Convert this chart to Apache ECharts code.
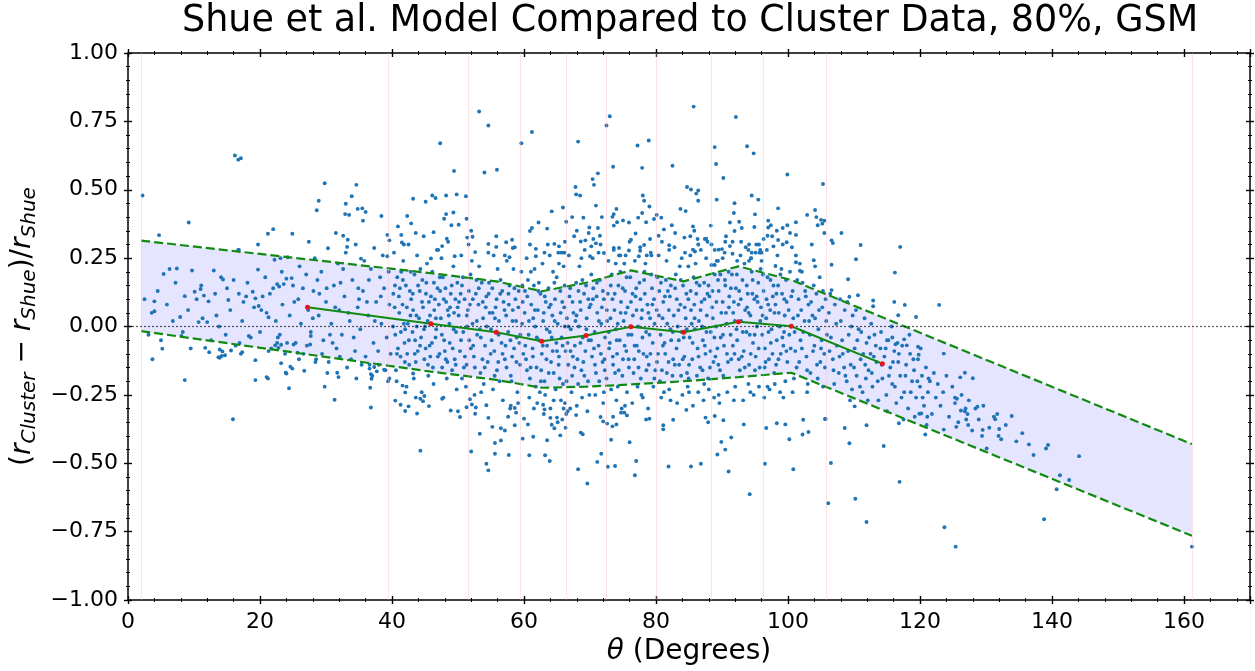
<!DOCTYPE html>
<html><head><meta charset="utf-8">
<script src="https://cdn.jsdelivr.net/npm/echarts@6/dist/echarts.min.js"></script>
<style>html,body{margin:0;padding:0;background:#fff}#c{width:1255px;height:671px}</style>
</head><body><div id="c"></div>
<script>
const titleText = 'Shue et al. Model Compared to Cluster Data, 80%, GSM';
const binEdges = [2, 39.5, 51.5, 59.5, 66.4, 72.4, 80.0, 88.3, 96.3, 105.8, 161.2];
const bandX = [2, 45.9, 55.8, 62.7, 69.4, 76.2, 84.2, 92.5, 100.5, 161.2];
const bandUpper = [0.314, 0.195, 0.165, 0.129, 0.16, 0.205, 0.165, 0.22, 0.17, -0.43];
const bandLower = [-0.017, -0.165, -0.195, -0.224, -0.22, -0.212, -0.2, -0.185, -0.169, -0.765];
const medianX = [27.2, 45.9, 55.8, 62.7, 69.4, 76.2, 84.2, 92.5, 100.5, 114.3];
const medianY = [0.07, 0.01, -0.021, -0.054, -0.033, -0.001, -0.021, 0.017, 0.001, -0.136];

// scatter points [x, y, x, y, ...]
const ptsLeft = [4.0,.092,4.0,.056,5.4,.192,6.3,.21,7.4,.212,9.7,.205,7.9,.035,8.6,.111,10.1,.127,11.1,.15,11.0,.137,11.5,.113,12.2,.092,10.7,.016,12.0,.016,13.4,.04,13.0,.205,14.4,.172,15.0,.14,15.2,.097,16.0,.17,16.7,.28,17.9,.11,17.5,.09,18.9,.127,19.3,.103,19.8,.075,19.7,.208,20.8,.18,21.3,.034,22.2,.244,22.6,.155,22.9,.146,23.6,.155,23.1,.25,24.0,.175,24.8,.177,24.2,.253,
8.1,-.035,13.9,-.084,13.9,-.114,16.9,-.06,18.3,-.035,21.3,-.09,22.3,-.069,22.6,-.06,23.2,-.067,22.8,-.078,23.9,-.169,25.1,-.066,25.7,-.096,27.7,-.035,27.6,-.066,36.7,-.224,
2.5,.1,3.1,-.03,3.6,.05,4.5,.13,5.0,-.05,5.9,.08,6.8,.02,7.2,.16,8.3,-.02,9.1,.06,9.5,-.08,10.4,.1,11.3,.03,12.6,-.05,13.2,.12,13.8,.0,14.1,.18,14.8,-.03,15.5,.06,16.3,-.07,16.8,.12,17.3,.02,18.1,.16,18.6,-.04,19.1,.07,20.0,-.02,20.4,.11,21.0,.05,21.7,-.08,22.0,.14,22.4,.02,23.0,-.03,23.4,.08,23.8,-.1,24.5,.04,25.0,.15,25.4,-.06,25.8,.1,26.2,.01,26.6,-.1,27.0,.19,27.3,.06,27.7,-.02,28.1,.13,28.5,-.12,28.9,.04,29.3,.2,29.6,-.05,30.0,.09,30.4,-.13,30.8,.01,31.2,.15,31.6,-.08,32.0,.06,32.4,-.03,32.8,.11,33.2,-.15,33.6,.02,34.0,.17,34.4,-.09,34.8,.07,35.2,-.01,35.6,.13,36.0,-.11,36.4,.04,36.8,.21,37.2,-.06,37.6,.09,38.0,-.14,38.4,.01,38.8,.14,39.2,-.04,39.6,.08,
26.0,.22,28.3,.25,30.2,-.17,31.8,.23,33.0,.27,34.6,-.19,35.8,.24,37.0,-.18,38.6,.26,39.4,-.2,29.0,.12,32.2,.16,35.0,.1,36.6,-.14,38.2,.18,39.8,-.1,
20.2,.06,21.5,.12,22.7,-.04,23.3,.2,24.1,-.06,25.2,.09,25.9,-.12,26.5,.14,27.1,-.07,28.0,.03,28.7,.17,29.4,-.1,30.1,.14,30.6,-.03,31.4,.07,32.1,-.11,32.6,.21,33.4,.05,34.2,-.04,34.9,.14,35.4,-.14,36.2,.09,37.4,.02,37.9,-.09,38.3,.11,39.0,-.16,39.5,.2,36.5,.17,33.8,-.12,31.0,-.06];

const ptsCoreA = [40.2,.12,40.5,-.03,40.8,.18,41.1,.05,41.3,-.11,41.6,.08,41.9,-.06,42.1,.15,42.4,.01,42.6,-.14,42.9,.1,43.1,-.02,43.4,.19,43.7,.04,43.9,-.09,44.2,.13,44.4,-.04,44.7,.07,44.9,-.12,45.2,.16,45.4,.02,45.7,-.07,45.9,.11,46.2,-.15,46.4,.06,46.7,-.01,46.9,.14,47.2,-.1,47.4,.03,47.7,.18,47.9,-.05,48.2,.09,48.4,-.13,48.7,.01,48.9,.12,49.2,-.08,49.4,.05,49.7,-.02,49.9,.16,
40.4,.07,40.9,-.08,41.4,.2,41.8,.01,42.3,-.1,42.7,.13,43.2,.06,43.6,-.13,44.1,.03,44.6,.17,45.1,-.08,45.6,.09,46.1,.2,46.6,-.04,47.1,.08,47.6,-.15,48.1,.14,48.6,.04,49.1,-.16,49.6,.1,
40.6,-.16,41.2,.14,42.0,-.01,42.8,.04,43.5,-.05,44.3,.21,45.0,.0,45.8,-.11,46.5,.1,47.3,.13,48.0,-.09,48.8,.07,49.5,-.12,
40.3,.27,41.7,.24,42.5,.3,43.8,.26,44.8,.33,45.3,.23,46.8,.28,47.5,.25,48.5,.31,49.3,.22,40.7,-.2,42.2,-.22,43.3,-.19,44.5,-.24,45.5,-.18,46.3,-.21,47.8,-.26,48.3,-.19,49.8,-.23,
50.1,.04,50.3,-.09,50.6,.15,50.8,-.02,51.0,.1,51.3,-.14,51.5,.06,51.7,-.05,51.9,.19,52.2,.01,52.4,-.11,52.7,.12,52.9,-.03,53.1,.08,53.4,-.17,53.6,.16,53.8,.03,54.1,-.07,54.3,.11,54.5,-.13,54.8,.05,55.0,-.01,55.2,.14,55.5,-.09,55.7,.07,55.9,-.16,56.2,.02,56.4,.12,56.6,-.06,56.9,.09,57.1,-.12,57.3,.04,57.6,-.02,57.8,.15,58.0,-.18,58.3,.06,58.5,-.08,58.7,.1,58.9,-.04,59.2,.13,59.4,-.14,59.7,.01,59.9,-.1,
50.4,.12,50.9,-.15,51.4,.0,51.8,.08,52.3,-.07,52.8,.17,53.3,-.01,53.7,-.12,54.2,.07,54.7,.16,55.1,-.05,55.6,.03,56.1,-.13,56.7,.13,57.2,-.07,57.7,.08,58.2,-.11,58.8,.02,59.3,-.06,59.8,.09,
50.5,.26,51.2,-.22,51.6,.3,52.5,-.25,53.2,.22,53.9,-.21,54.6,.27,55.3,-.23,56.0,.21,56.8,-.27,57.4,.24,58.1,-.2,58.6,.29,59.0,-.24,59.6,.2,52.0,.35,55.8,.33,57.9,-.3,
40.15,.0,40.45,.15,40.75,-.1,41.05,.11,41.35,-.02,41.65,.17,41.95,-.13,42.25,.07,42.55,-.05,42.85,.2,43.15,.12,43.45,-.1,43.75,.0,43.95,.15,44.25,-.07,44.55,.09,44.85,-.01,45.15,.12,45.45,-.14,45.75,.04,46.05,-.06,46.35,.16,46.65,.03,46.95,-.11,47.25,.18,47.55,-.03,47.85,.1,48.15,-.12,48.45,.06,48.75,-.06,49.05,.15,49.35,-.01,49.65,-.14,49.95,.07,
50.15,.09,50.45,-.05,50.75,.18,51.05,-.11,51.35,.04,51.65,.13,51.95,-.08,52.25,.1,52.55,-.15,52.85,.02,53.15,.14,53.45,-.04,53.75,.09,54.05,-.15,54.35,.0,54.65,.12,54.95,-.1,55.25,.05,55.55,-.18,55.85,.1,56.15,-.03,56.45,.17,56.75,-.1,57.05,.06,57.35,-.15,57.65,.12,57.95,-.05,58.25,.02,58.55,.14,58.85,-.13,59.15,.07,59.45,-.03,59.75,.15,50.6,-.19,52.1,.24,53.5,-.24,55.4,.26,56.3,-.2,58.4,.21,59.1,-.28];

const ptsCoreB = [60.1,.05,60.3,-.12,60.5,.11,60.7,-.03,60.9,-.19,61.1,.08,61.3,-.08,61.5,.15,61.7,.0,61.9,-.15,62.1,.06,62.3,-.05,62.5,.12,62.7,-.1,62.9,.02,63.1,-.2,63.3,.09,63.5,-.07,63.7,.14,63.9,-.02,64.1,-.13,64.3,.04,64.5,-.17,64.7,.1,64.9,-.06,65.1,.01,65.3,-.11,65.5,.13,65.7,-.04,65.9,-.21,66.1,.07,66.3,-.09,66.5,.03,66.7,-.14,66.9,.11,67.1,-.01,67.3,-.18,67.5,.05,67.7,-.07,67.9,.16,68.1,-.12,68.3,.0,68.5,.09,68.7,-.16,68.9,-.04,69.1,.12,69.3,-.09,69.5,.03,69.7,-.2,69.9,.07,
60.2,-.07,60.6,.17,61.0,-.15,61.4,.03,61.8,-.22,62.2,.13,62.6,-.16,63.0,.05,63.4,-.12,63.8,.07,64.2,-.04,64.6,.16,65.0,-.09,65.4,-.19,65.8,.09,66.2,.0,66.6,-.06,67.0,.14,67.4,-.11,67.8,.02,68.2,-.21,68.6,.06,69.0,-.13,69.4,.15,69.8,-.05,
60.4,.25,60.8,-.26,61.6,.21,62.0,-.28,62.8,.23,63.2,-.25,63.6,.3,64.0,-.3,64.4,.2,64.8,-.23,65.2,.27,65.6,-.27,66.0,.22,66.4,-.32,66.8,.26,67.2,-.24,67.6,.33,68.0,-.29,68.4,.22,68.8,-.26,69.2,.28,69.6,-.31,61.2,.36,65.1,-.35,67.3,.4,
60.15,.13,60.45,-.16,60.75,.02,61.05,.2,61.35,-.11,61.65,.06,61.95,-.04,62.25,.16,62.55,-.2,62.85,-.07,63.15,.11,63.45,-.01,63.75,-.17,64.05,.08,64.35,-.09,64.65,.02,64.95,.18,65.25,-.14,65.55,.05,65.85,-.07,66.15,.15,66.45,-.2,66.75,.0,67.05,-.09,67.35,.09,67.65,-.15,67.95,.04,68.25,.13,68.55,-.06,68.85,.17,69.15,-.18,69.45,-.01,69.75,.1,60.9,.3,62.4,-.24,63.9,.26,64.5,-.27,66.2,.31,67.0,-.3,68.7,.25,69.9,-.25,61.5,-.3,65.3,.23,68.0,.35,
70.1,.08,70.3,-.11,70.5,.14,70.7,-.02,70.9,-.17,71.1,.05,71.3,-.07,71.5,.17,71.7,.01,71.9,-.13,72.1,.1,72.3,-.04,72.5,-.19,72.7,.12,72.9,-.08,73.1,.03,73.3,.19,73.5,-.14,73.7,.06,73.9,-.01,74.1,-.1,74.3,.15,74.5,-.05,74.7,.09,74.9,-.18,75.1,.02,75.3,.13,75.5,-.09,75.7,.07,75.9,-.15,76.1,.18,76.3,-.03,76.5,.04,76.7,-.12,76.9,.11,77.1,-.07,77.3,.0,77.5,.16,77.7,-.19,77.9,.06,78.1,-.1,78.3,.12,78.5,-.02,78.7,.08,78.9,-.14,79.1,.03,79.3,.19,79.5,-.06,79.7,.1,79.9,-.16,
70.2,.19,70.6,-.08,71.0,.11,71.4,-.2,71.8,.07,72.2,-.12,72.6,.02,73.0,-.06,73.4,.1,73.8,-.17,74.2,.01,74.6,.2,75.0,-.12,75.4,.05,75.8,-.03,76.2,.09,76.6,-.17,77.0,.14,77.4,-.09,77.8,.03,78.2,.17,78.6,-.11,79.0,-.03,79.4,.14,79.8,.01,
70.4,.25,70.8,-.25,71.6,.3,72.0,-.28,72.8,.24,73.2,-.23,73.6,.28,74.0,-.27,74.4,.26,74.8,-.3,75.2,.23,75.6,-.24,76.0,.31,76.4,-.28,76.8,.24,77.2,-.22,77.6,.29,78.0,-.26,78.4,.23,78.8,-.3,79.2,.27,79.6,-.22,71.2,.36,73.5,-.33,75.9,.38,78.5,-.34,
70.15,-.05,70.45,.1,70.75,-.14,71.05,.16,71.35,.02,71.65,-.1,71.95,.13,72.25,-.16,72.55,.06,72.85,-.02,73.15,.15,73.45,-.11,73.75,.12,74.05,-.05,74.35,-.16,74.65,.05,74.95,.14,75.25,-.07,75.55,.18,75.85,-.12,76.15,.0,76.45,.12,76.75,-.07,77.05,.06,77.35,-.15,77.65,.1,77.95,-.04,78.25,.2,78.55,-.16,78.85,.05,79.15,-.1,79.45,.08,79.75,-.19,70.5,.32,72.1,-.24,73.9,.23,75.3,-.29,76.9,.34,77.8,-.25,79.1,.32,71.3,.27,74.2,-.22,78.6,.26];

const ptsCoreC = [80.1,.06,80.3,-.1,80.5,.13,80.7,-.03,80.9,-.16,81.1,.09,81.3,-.06,81.5,.17,81.7,.01,81.9,-.13,82.1,.11,82.3,-.05,82.5,-.18,82.7,.04,82.9,.14,83.1,-.08,83.3,.0,83.5,-.14,83.7,.08,83.9,-.02,84.1,.15,84.3,-.11,84.5,.03,84.7,-.17,84.9,.1,85.1,-.04,85.3,.06,85.5,-.12,85.7,.18,85.9,-.01,86.1,.12,86.3,-.08,86.5,.02,86.7,-.15,86.9,.09,87.1,-.05,87.3,.16,87.5,-.1,87.7,.04,87.9,-.19,88.1,.11,88.3,-.02,88.5,.07,88.7,-.13,88.9,.19,89.1,.0,89.3,-.08,89.5,.13,89.7,-.16,89.9,.05,
80.2,.18,80.6,-.2,81.0,.03,81.4,-.1,81.8,.13,82.2,-.01,82.6,-.12,83.0,.19,83.4,.06,83.8,-.18,84.2,-.04,84.6,.12,85.0,-.14,85.4,.01,85.8,.08,86.2,-.18,86.6,.15,87.0,.0,87.4,-.07,87.8,.12,88.2,-.15,88.6,.03,89.0,-.11,89.4,.17,89.8,-.04,
80.4,.26,80.8,-.26,81.6,.24,82.0,-.23,82.8,.29,83.2,-.28,83.6,.22,84.0,-.25,84.4,.27,84.8,-.22,85.2,.33,85.6,-.29,86.0,.23,86.4,-.24,86.8,.28,87.2,-.27,87.6,.25,88.0,-.23,88.4,.3,88.8,-.26,89.2,.24,89.6,-.28,82.4,.37,85.8,.35,87.9,-.35,
80.15,-.13,80.45,.04,80.75,.16,81.05,-.07,81.35,.11,81.65,-.17,81.95,.06,82.25,.15,82.55,-.02,82.85,-.14,83.15,.1,83.45,-.05,83.75,.17,84.05,-.12,84.35,.07,84.65,-.01,84.95,-.19,85.25,.13,85.55,-.06,85.85,.03,86.15,.16,86.45,-.11,86.75,.06,87.05,-.16,87.35,.1,87.65,-.02,87.95,.15,88.25,-.09,88.55,.13,88.85,-.04,89.15,.09,89.45,-.14,89.75,.19,80.9,.31,82.2,-.27,83.9,.25,85.0,-.24,86.3,.32,87.3,-.21,88.9,.28,89.5,-.25,81.2,-.24,84.9,.22,
90.1,.09,90.3,-.07,90.5,.15,90.7,.01,90.9,-.13,91.1,.11,91.3,-.03,91.5,.19,91.7,.05,91.9,-.1,92.1,.14,92.3,-.05,92.5,.08,92.7,-.16,92.9,.02,93.1,.17,93.3,-.09,93.5,.06,93.7,-.02,93.9,.12,94.1,-.14,94.3,.04,94.5,.2,94.7,-.06,94.9,.1,95.1,-.11,95.3,.0,95.5,.16,95.7,-.15,95.9,.07,96.1,-.03,96.3,.13,96.5,-.08,96.7,.03,96.9,.18,97.1,-.12,97.3,.06,97.5,-.01,97.7,.11,97.9,-.17,98.1,.08,98.3,-.05,98.5,.15,98.7,.0,98.9,-.1,99.1,.12,99.3,-.07,99.5,.04,99.7,.17,99.9,-.13,
90.2,-.18,90.6,.05,91.0,.2,91.4,-.12,91.8,.09,92.2,-.01,92.6,.13,93.0,-.11,93.4,.23,93.8,.07,94.2,-.03,94.6,.12,95.0,-.16,95.4,.09,95.8,.02,96.2,.19,96.6,-.13,97.0,.08,97.4,-.06,97.8,.15,98.2,-.14,98.6,.05,99.0,.21,99.4,-.02,99.8,.09,
90.4,.27,90.8,-.24,91.6,.31,92.0,-.22,92.8,.26,93.2,-.27,93.6,.29,94.0,-.21,94.4,.25,94.8,-.25,95.2,.3,95.6,-.22,96.0,.24,96.4,-.26,96.8,.28,97.2,-.23,97.6,.33,98.0,-.21,98.4,.26,98.8,-.24,99.2,.3,99.6,-.2,91.2,.38,93.0,.36,95.0,.41,97.4,.37,
90.15,-.03,90.45,.17,90.75,-.1,91.05,.07,91.35,.14,91.65,-.07,91.95,.02,92.25,.19,92.55,-.12,92.85,.1,93.15,-.02,93.45,-.15,93.75,.15,94.05,.05,94.35,-.1,94.65,.17,94.95,-.03,95.25,.11,95.55,-.08,95.85,.21,96.15,.04,96.45,-.15,96.75,.1,97.05,-.02,97.35,.17,97.65,-.1,97.95,.05,98.25,.12,98.55,-.12,98.85,.19,99.15,-.04,99.45,.1,99.75,-.09,90.6,.33,91.8,-.27,92.9,.31,94.3,-.24,95.7,.27,96.9,-.22,98.3,.35,99.3,-.26,92.3,.24,96.3,.32,
100.1,.06,100.4,-.08,100.7,.13,101.0,-.02,101.3,-.15,101.6,.1,101.9,-.05,102.2,.16,102.5,.02,102.8,-.11,103.1,.08,103.4,-.17,103.7,.04,104.0,-.07,104.3,.12,104.6,-.01,104.9,-.13,105.2,.07,105.5,-.1,105.8,.02,
100.3,.2,100.9,-.19,101.5,.04,102.1,-.08,102.7,.11,103.3,-.03,103.9,.15,104.5,-.19,105.1,-.05,105.7,.1,101.2,.26,102.9,-.24,104.1,.22,105.3,-.22,100.6,.29,103.6,.3,
100.2,-.03,100.5,.11,100.8,.03,101.1,-.09,101.4,.17,101.7,-.13,102.0,.06,102.3,-.02,102.6,.13,102.9,-.16,103.2,.02,103.5,.09,103.8,-.09,104.1,.03,104.4,-.14,104.7,.06,105.0,-.08,105.3,.13,105.6,-.15,105.9,-.03,101.8,.23,103.0,-.21,104.8,.18,100.7,-.24];

const ptsRight = [106.2,.05,106.5,-.04,106.8,-.12,107.1,.08,107.4,-.07,107.7,-.17,108.0,.02,108.3,-.1,108.6,.06,108.9,-.2,109.2,-.03,109.5,-.14,109.8,.04,110.1,-.08,110.4,-.18,110.7,-.01,111.0,-.12,111.3,-.24,111.6,.03,111.9,-.06,112.2,-.16,112.5,-.1,112.8,-.22,113.1,-.03,113.4,-.13,113.7,-.27,114.0,-.08,114.3,-.19,114.6,-.11,114.9,-.25,115.2,-.05,115.5,-.15,115.8,-.21,116.1,-.09,116.4,-.28,116.7,-.13,117.0,-.18,117.3,-.07,117.6,-.24,117.9,-.14,118.2,-.3,118.5,-.1,118.8,-.2,119.1,-.16,119.4,-.26,119.7,-.12,120.0,-.22,120.3,-.18,120.6,-.29,120.9,-.15,121.2,-.24,121.5,-.2,121.8,-.32,122.1,-.17,122.4,-.26,
106.4,.12,107.0,-.21,107.9,.1,108.5,-.15,109.0,.09,109.7,-.23,110.3,.06,111.1,-.02,111.8,-.19,112.6,.01,113.3,-.07,114.1,-.02,115.0,-.31,115.7,.0,116.6,-.06,117.5,-.34,118.4,-.03,119.2,-.33,120.1,-.08,121.0,-.36,
122.7,-.21,123.1,-.29,123.5,-.24,124.0,-.18,124.4,-.33,124.9,-.22,125.3,-.28,125.8,-.35,126.3,-.25,126.8,-.31,127.4,-.27,127.9,-.38,128.4,-.3,128.9,-.34,129.6,-.29,130.5,-.37,131.2,-.33,131.9,-.4,133.0,-.36,134.6,-.42,135.5,-.39,137.2,-.47,
106.3,-.09,106.9,-.16,107.3,.01,107.8,-.11,108.2,-.05,108.7,-.18,109.1,-.09,109.6,.0,110.0,-.15,110.5,-.05,110.9,-.22,111.4,-.1,111.7,-.14,112.3,-.04,112.7,-.17,113.0,-.11,113.6,-.2,114.2,-.14,114.8,-.08,115.3,-.18,115.9,-.13,116.2,-.22,116.8,-.1,117.2,-.26,117.8,-.18,118.6,-.24,119.0,-.12,119.6,-.2,120.4,-.26,121.3,-.19];

const ptsUpperOut = [2.2,.479,16.2,.625,16.7,.61,17.1,.615,9.2,.38,4.7,.334,29.8,.524,34.6,.518,28.9,.46,28.6,.425,33.9,.476,33.0,.449,32.9,.411,33.5,.408,34.8,.43,35.5,.432,36.0,.419,35.6,.387,38.4,.404,43.2,.467,42.3,.404,42.9,.377,40.9,.366,43.6,.342,41.4,.335,39.3,.335,39.6,.315,41.5,.307,41.8,.30,31.5,.342,32.6,.332,33.3,.317,33.2,.291,34.5,.30,30.3,.286,27.4,.31,37.3,.287,35.3,.248,24.9,.339,22.0,.356,21.2,.339,19.7,.30,16.8,.28,39.3,.257,
53.2,.786,54.6,.735,47.3,.67,59.6,.67,61.2,.711,54.0,.563,55.9,.573,49.4,.569,68.2,.676,72.5,.735,73.0,.769,73.5,.584,77.2,.662,78.9,.68,77.9,.58,85.7,.804,82.5,.588,45.1,.456,46.1,.479,46.6,.47,48.2,.479,49.8,.483,51.2,.476,51.3,.394,47.9,.394,48.2,.411,49.3,.417,49.0,.37,50.1,.372,46.3,.345,48.3,.321,51.4,.325,52.2,.328,47.0,.28,47.6,.294,49.5,.257,45.9,.249,52.6,.272,54.6,.302,55.8,.291,57.3,.308,58.2,.317,57.1,.26,57.8,.253,58.3,.287,60.9,.349,62.2,.38,63.5,.358,64.2,.421,65.9,.435,66.4,.383,61.8,.284,61.8,.257,63.1,.27,64.6,.302,65.3,.293,65.7,.27,66.1,.27,67.8,.51,67.9,.483,68.5,.479,69.0,.398,69.9,.362,69.8,.342,70.4,.539,70.6,.518,71.2,.56,70.9,.442,71.8,.40,71.5,.332,68.6,.311,69.3,.315,70.2,.293,70.9,.304,72.1,.269,70.0,.257,74.0,.43,73.6,.411,73.4,.401,74.1,.381,73.6,.369,75.0,.388,73.6,.287,74.4,.287,76.2,.317,74.6,.26,75.4,.26,75.9,.278,77.3,.398,77.9,.415,78.2,.46,78.0,.479,79.0,.439,78.5,.381,80.1,.408,79.7,.393,80.8,.398,81.2,.355,80.4,.332,78.2,.298,77.6,.277,77.4,.257,79.3,.26,82.0,.297,82.0,.28,82.9,.342,83.7,.43,84.5,.422,84.7,.51,85.3,.501,86.1,.486,86.4,.497,86.4,.46,85.6,.366,84.3,.325,86.4,.30,85.6,.281,85.9,.274,87.4,.32,85.2,.26,
92.1,.766,88.9,.656,89.1,.594,93.8,.659,94.8,.633,90.2,.543,99.9,.556,105.3,.521,89.2,.464,94.5,.479,95.5,.464,91.9,.451,91.8,.415,98.5,.432,88.3,.369,92.6,.383,91.9,.349,94.9,.364,97.0,.387,97.0,.362,96.9,.332,99.2,.36,99.9,.37,100.3,.342,101.2,.381,101.2,.335,102.9,.408,104.1,.426,104.3,.40,104.5,.37,105.0,.39,105.5,.387,105.2,.376,105.5,.342,106.6,.315,106.8,.305,108.1,.342,111.0,.298,117.0,.291,110.3,.246,116.2,.197,109.1,.173,106.6,.226,103.9,.242,101.2,.235,98.5,.316,99.8,.308,95.6,.3,95.8,.28,96.0,.27,95.1,.27,94.5,.27,90.5,.31,91.2,.294,91.6,.266,89.5,.281,90.0,.283,87.6,.321,87.8,.31,88.4,.225,88.9,.225,89.4,.24,90.1,.25,94.1,.3,94.0,.28,94.1,.24,94.4,.25,98.1,.221,97.8,.293,101.8,.204,102.1,.2,
106.6,.133,109.3,.109,110.6,.114,112.9,.095,112.9,.074,116.1,.09,117.7,.079,116.7,.041,119.4,.035,122.9,.079,119.7,-.074,119.8,-.103,117.6,-.047,118.0,-.069,115.8,-.04,115.0,-.05,116.3,-.065,123.6,-.099];

const ptsLowerOut = [3.7,-.12,5.2,-.081,8.6,-.196,15.9,-.339,11.7,-.078,12.3,-.094,13.7,-.112,14.2,-.108,14.7,-.105,14.3,-.091,15.6,-.088,17.3,-.094,17.1,-.1,19.3,-.123,19.3,-.196,21.0,-.185,21.2,-.19,23.2,-.134,24.0,-.172,24.6,-.147,24.9,-.154,24.4,-.226,26.7,-.162,28.4,-.13,29.8,-.22,31.3,-.268,31.7,-.169,31.9,-.185,36.8,-.296,36.6,-.154,36.8,-.174,36.9,-.191,37.3,-.148,37.7,-.164,39.6,-.19,38.8,-.158,41.6,-.216,42.0,-.241,40.5,-.271,41.3,-.286,42.0,-.309,42.5,-.292,43.6,-.26,43.2,-.172,
44.3,-.454,43.8,-.318,45.6,-.291,44.3,-.264,44.7,-.273,44.9,-.254,47.6,-.264,48.9,-.307,50.0,-.31,50.3,-.331,52.0,-.457,53.3,-.392,52.6,-.319,52.7,-.296,52.1,-.285,51.3,-.295,51.8,-.266,54.3,-.288,54.6,-.334,54.3,-.502,54.6,-.526,55.6,-.465,55.6,-.426,56.5,-.417,55.2,-.367,56.5,-.372,57.1,-.38,57.7,-.47,57.6,-.33,58.0,-.29,58.6,-.298,58.8,-.315,58.6,-.361,59.8,-.41,60.0,-.337,60.6,-.358,60.8,-.471,61.4,-.403,63.2,-.471,63.9,-.492,63.5,-.416,63.0,-.32,63.1,-.303,62.9,-.286,64.2,-.359,64.6,-.372,65.5,-.398,64.0,-.334,65.0,-.333,65.8,-.34,66.0,-.3,66.3,-.37,66.6,-.31,66.2,-.28,68.2,-.522,69.6,-.574,68.6,-.388,68.9,-.394,67.9,-.324,71.1,-.495,71.7,-.465,72.7,-.513,73.8,-.51,73.2,-.414,76.0,-.423,77.0,-.492,76.8,-.544,71.6,-.331,72.0,-.347,72.6,-.355,73.4,-.365,74.0,-.358,74.7,-.315,75.2,-.315,75.6,-.325,79.0,-.337,81.1,-.361,81.1,-.376,81.9,-.512,82.6,-.341,85.3,-.512,86.8,-.502,84.6,-.305,87.5,-.333,
91.0,-.53,94.2,-.613,96.5,-.502,100.8,-.522,89.3,-.468,90.5,-.45,89.9,-.422,91.4,-.406,93.3,-.358,96.7,-.371,98.3,-.354,99.6,-.358,100.2,-.412,102.2,-.395,103.1,-.386,102.3,-.341,88.9,-.327,90.2,-.343,
161.2,-.805,138.8,-.705,140.7,-.595,141.2,-.544,142.6,-.561,144.1,-.474,139.1,-.446,139.4,-.433,136.5,-.431,133.9,-.327,131.4,-.339,131.7,-.32,132.0,-.375,132.3,-.412,130.1,-.446,128.7,-.293,126.9,-.3,127.2,-.32,127.0,-.34,127.3,-.36,129.5,-.378,129.4,-.40,126.2,-.307,125.5,-.367,123.6,-.377,125.3,-.26,125.6,-.264,126.8,-.169,126.1,-.186,128.0,-.189,119.9,-.319,120.2,-.318,121.1,-.33,116.8,-.354,105.6,-.338,110.1,-.292,109.4,-.27,112.1,-.27,
123.7,-.734,125.4,-.805,116.9,-.568,114.5,-.437,111.9,-.361,111.9,-.715,110.2,-.63,109.3,-.427,108.6,-.371,106.5,-.499,106.1,-.646,105.7,-.338,120.8,-.395];

function pairs(a){const r=[];for(let i=0;i+1<a.length;i+=2)r.push([a[i],a[i+1]]);return r;}
const scatterData = [].concat(pairs(ptsLeft),pairs(ptsCoreA),pairs(ptsCoreB),pairs(ptsCoreC),pairs(ptsRight),pairs(ptsUpperOut),pairs(ptsLowerOut));

const FONT = 'DejaVu Sans';
const X_MIN = 0, X_MAX = 170, X_MAJOR = 20, X_MINOR = 4;
const Y_MIN = -1, Y_MAX = 1, Y_MAJOR = 0.25, Y_MINOR = 0.05;
const MAJ = 8, MIN = 4;

function fmtY(v){ const s = Math.abs(v).toFixed(2); return (v < -1e-9 ? '\u2212' : '') + s; }

function baseAx(kind, pos, interval, tickLen, offset, opts){
  return Object.assign({
    type:'value', position:pos,
    min: kind==='x'?X_MIN:Y_MIN, max: kind==='x'?X_MAX:Y_MAX,
    interval:interval, offset:offset,
    axisLine:{show:false, onZero:false},
    axisTick:{show:true, inside:false, length:tickLen, lineStyle:{color:'#000', width: tickLen===MAJ?1.4:1}},
    axisLabel:{show:false}, splitLine:{show:false}, minorTick:{show:false}, minorSplitLine:{show:false}
  }, opts||{});
}
const spine = {show:true, onZero:false, lineStyle:{color:'#000', width:1.5}};

const xAxes = [
  baseAx('x','bottom', X_MAJOR, MAJ, 0, {
    axisLine:spine, axisTick:{show:false},
    axisLabel:{show:true, margin:11, fontFamily:FONT, fontSize:22, color:'#000', formatter:(v)=> (v % X_MAJOR === 0 ? String(v) : '')},
    name:'{i|\u03b8} (Degrees)', nameLocation:'middle', nameGap:38,
    nameTextStyle:{fontFamily:FONT, fontSize:28, color:'#000', rich:{i:{fontFamily:FONT, fontSize:28, fontStyle:'italic', color:'#000'}}}
  }),
  baseAx('x','bottom', X_MAJOR, MAJ, -MAJ/2),
  baseAx('x','bottom', X_MINOR, MIN, -MIN/2),
  baseAx('x','top', X_MAJOR, 0, 0, {axisLine:spine, axisTick:{show:false}}),
  baseAx('x','top', X_MAJOR, MAJ, -MAJ/2),
  baseAx('x','top', X_MINOR, MIN, -MIN/2)
];
const yAxes = [
  baseAx('y','left', Y_MAJOR, MAJ, 0, {
    axisLine:spine, axisTick:{show:false},
    axisLabel:{show:true, margin:10, fontFamily:FONT, fontSize:22, color:'#000', formatter:fmtY},
    name:'{p|(}{i|r}{s|Cluster}{p| \u2212 }{i|r}{s|Shue}{p|)/}{i|r}{s|Shue}',
    nameLocation:'middle', nameGap:84, nameRotate:90,
    nameTextStyle:{fontFamily:FONT, fontSize:28, color:'#000', rich:{
      p:{fontFamily:FONT, fontSize:28, color:'#000'},
      i:{fontFamily:FONT, fontSize:28, fontStyle:'italic', color:'#000'},
      s:{fontFamily:FONT, fontSize:20, fontStyle:'italic', color:'#000', padding:[14,0,0,0]}
    }}
  }),
  baseAx('y','left', Y_MAJOR, MAJ, -MAJ/2),
  baseAx('y','left', Y_MINOR, MIN, -MIN/2),
  baseAx('y','right', Y_MAJOR, 0, 0, {axisLine:spine, axisTick:{show:false}}),
  baseAx('y','right', Y_MAJOR, MAJ, -MAJ/2),
  baseAx('y','right', Y_MINOR, MIN, -MIN/2)
];

const GREEN = '#108a10';
const chart = echarts.init(document.getElementById('c'), null, {renderer:'canvas'});
chart.setOption({
  animation:false,
  backgroundColor:'#fff',
  title:{text:titleText, left:182, top:3, padding:0, textStyle:{fontFamily:FONT, fontSize:36.5, fontWeight:'normal', color:'#000'}},
  grid:{left:128, right:5, top:53, bottom:70},
  xAxis:xAxes,
  yAxis:yAxes,
  series:[
    {
      type:'custom', xAxisIndex:0, yAxisIndex:0, z:1, silent:true,
      data:[[bandX[0], bandUpper[0]]],
      renderItem:function(params, api){
        const pts = [];
        for (let i=0;i<bandX.length;i++) pts.push(api.coord([bandX[i], bandUpper[i]]));
        for (let i=bandX.length-1;i>=0;i--) pts.push(api.coord([bandX[i], bandLower[i]]));
        return {type:'polygon', shape:{points:pts}, style:{fill:'rgba(0,0,255,0.1)', stroke:null}};
      },
      markLine:{silent:true, symbol:['none','none'], label:{show:false},
        lineStyle:{color:'rgba(255,182,193,0.38)', width:1, type:'solid'},
        data:binEdges.map(v=>({xAxis:v}))}
    },
    {
      type:'scatter', xAxisIndex:0, yAxisIndex:0, z:3, silent:true,
      symbol:'circle', symbolSize:3.9, large:false,
      itemStyle:{color:'#1f74b6', opacity:1},
      data:scatterData
    },
    {
      type:'line', xAxisIndex:0, yAxisIndex:0, z:4, silent:true, symbol:'none',
      lineStyle:{color:GREEN, width:2.2, type:[9,4]},
      data:bandX.map((x,i)=>[x, bandUpper[i]])
    },
    {
      type:'line', xAxisIndex:0, yAxisIndex:0, z:4, silent:true, symbol:'none',
      lineStyle:{color:GREEN, width:2.2, type:[9,4]},
      data:bandX.map((x,i)=>[x, bandLower[i]])
    },
    {
      type:'line', xAxisIndex:0, yAxisIndex:0, z:5, silent:true,
      symbol:'circle', symbolSize:5, showSymbol:true,
      itemStyle:{color:'#e8141c'},
      lineStyle:{color:GREEN, width:2},
      data:medianX.map((x,i)=>[x, medianY[i]]),
      markLine:{silent:true, symbol:['none','none'], label:{show:false},
        lineStyle:{color:'rgba(0,0,0,0.65)', width:1.2, type:[2,2]},
        data:[{yAxis:0}]}
    }
  ]
});
</script>
</body></html>
